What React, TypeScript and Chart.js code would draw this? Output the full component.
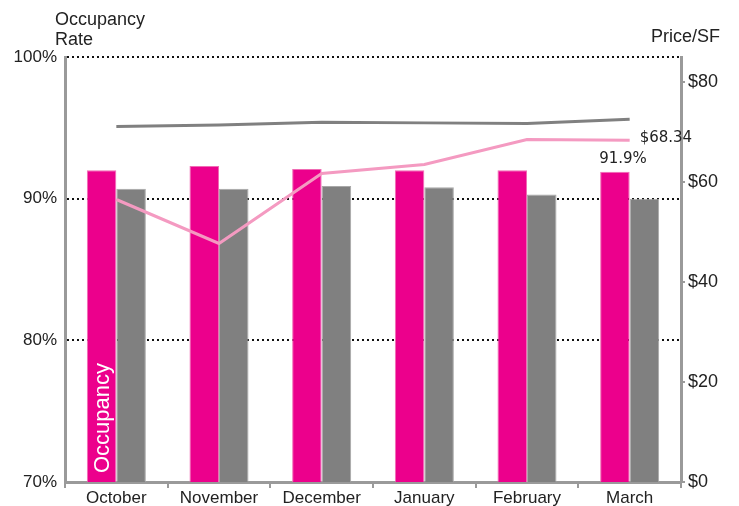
import React, { useEffect, useRef } from "react";
import { Chart, registerables } from "chart.js";

Chart.register(...registerables);

const categories = ["October", "November", "December", "January", "February", "March"];
const occupancyRate = [92.0, 92.3, 92.1, 92.0, 92.0, 91.9];
const comparisonRate = [90.7, 90.7, 90.9, 90.8, 90.3, 90.0];
const benchmarkRate = [95.1, 95.2, 95.4, 95.35, 95.3, 95.6];
const pricePerSF = [56.5, 47.7, 61.7, 63.5, 68.5, 68.34];
const leftTickValues = [70, 80, 90, 100];
const rightTickValues = [0, 20, 40, 60, 80];

const FONT = "'Liberation Sans', Arial, sans-serif";
const LABEL_FONT = "'DejaVu Sans', sans-serif";
const AXIS_GREY = "#9a9a9a";
const TEXT = "#222222";

const annotations = {
  id: "annotations",
  afterDatasetsDraw(chart: any) {
    const ctx = chart.ctx;
    const barMeta = chart.getDatasetMeta(2);
    const lineMeta = chart.getDatasetMeta(1);
    const last = categories.length - 1;
    const area = chart.chartArea;
    // Rotated label inside first pink bar
    const firstBar = barMeta.data[0];
    if (firstBar) {
      ctx.save();
      ctx.translate(firstBar.x, area.bottom - 9);
      ctx.rotate(-Math.PI / 2);
      ctx.fillStyle = "#ffffff";
      ctx.font = "22px " + FONT;
      ctx.textAlign = "left";
      ctx.textBaseline = "middle";
      ctx.fillText("Occupancy", 0, 1);
      ctx.restore();
    }
    ctx.save();
    // value label above last pink bar
    const lastBar = barMeta.data[last];
    if (lastBar) {
      ctx.fillStyle = TEXT;
      ctx.font = "15px " + LABEL_FONT;
      ctx.textAlign = "left";
      ctx.textBaseline = "alphabetic";
      ctx.fillText(occupancyRate[last].toFixed(1) + "%", lastBar.x - lastBar.width / 2 - 1, lastBar.y - 9);
    }
    const lastPt = lineMeta.data[last];
    if (lastPt) {
      ctx.fillStyle = TEXT;
      ctx.font = "15px " + LABEL_FONT;
      ctx.textAlign = "left";
      ctx.textBaseline = "middle";
      ctx.fillText("$" + pricePerSF[last].toFixed(2), lastPt.x + 10, lastPt.y - 2);
    }
    ctx.restore();
  },
  afterDraw(chart: any) {
    const ctx = chart.ctx;
    ctx.save();
    ctx.fillStyle = TEXT;
    ctx.font = "18px " + FONT;
    ctx.textBaseline = "alphabetic";
    ctx.textAlign = "left";
    ctx.fillText("Occupancy", 55, 25);
    ctx.fillText("Rate", 55, 45);
    ctx.textAlign = "right";
    ctx.fillText("Price/SF", 720, 42);
    ctx.restore();
  },
};

export default function App() {
  const ref = useRef<HTMLCanvasElement | null>(null);
  useEffect(() => {
    if (!ref.current) return;
    const chart = new Chart(ref.current, {
      type: "bar",
      data: {
        labels: categories,
        datasets: [
          {
            type: "line",
            label: "Benchmark",
            data: benchmarkRate,
            yAxisID: "y",
            borderColor: "#808080",
            borderWidth: 3,
            pointRadius: 0,
            tension: 0,
            order: 1,
          },
          {
            type: "line",
            label: "Price/SF",
            data: pricePerSF,
            yAxisID: "y2",
            borderColor: "#F49AC1",
            borderWidth: 3,
            pointRadius: 0,
            tension: 0,
            order: 1,
          },
          {
            type: "bar",
            label: "Occupancy",
            data: occupancyRate,
            yAxisID: "y",
            backgroundColor: "#EC008C",
            borderColor: "#F06BB4",
            borderWidth: 1,
            categoryPercentage: 0.575,
            barPercentage: 1,
            order: 2,
          },
          {
            type: "bar",
            label: "Comparison",
            data: comparisonRate,
            yAxisID: "y",
            backgroundColor: "#808080",
            borderColor: "#a8a8a8",
            borderWidth: 1,
            categoryPercentage: 0.575,
            barPercentage: 1,
            order: 2,
          },
        ],
      } as any,
      options: {
        animation: false,
        responsive: true,
        maintainAspectRatio: false,
        layout: { padding: { top: 57, left: 0, right: 0, bottom: 0 } },
        plugins: { legend: { display: false }, tooltip: { enabled: false } },
        scales: {
          x: {
            offset: true,
            grid: {
              offset: true,
              drawOnChartArea: false,
              drawTicks: true,
              tickLength: 6,
              color: AXIS_GREY,
              lineWidth: 2,
            },
            border: { color: AXIS_GREY, width: 3 },
            ticks: {
              font: { size: 17, family: FONT },
              color: TEXT,
              padding: 0,
              maxRotation: 0,
              autoSkip: false,
            },
            afterFit: (s: any) => {
              s.height = 24;
            },
          },
          y: {
            position: "left",
            min: leftTickValues[0],
            max: leftTickValues[leftTickValues.length - 1],
            afterBuildTicks: (s: any) => {
              s.ticks = leftTickValues.map((v) => ({ value: v }));
            },
            ticks: {
              callback: (v: any) => v + "%",
              font: { size: 17, family: FONT },
              color: TEXT,
              padding: 8,
            },
            grid: {
              drawTicks: false,
              color: (c: any) => (c.tick && c.tick.value === leftTickValues[0] ? "rgba(0,0,0,0)" : "#111111"),
              lineWidth: 2,
            },
            border: { color: AXIS_GREY, width: 3, dash: [2, 3] },
            afterFit: (s: any) => {
              s.width = 65;
            },
          },
          y2: {
            position: "right",
            min: 0,
            max: 85,
            afterBuildTicks: (s: any) => {
              s.ticks = rightTickValues.map((v) => ({ value: v }));
            },
            ticks: {
              callback: (v: any) => "$" + v,
              font: { size: 18, family: FONT },
              color: TEXT,
              padding: 3,
            },
            grid: {
              drawOnChartArea: false,
              drawTicks: true,
              tickLength: 4,
              color: AXIS_GREY,
              lineWidth: 2,
            },
            border: { color: AXIS_GREY, width: 3 },
            afterFit: (s: any) => {
              s.width = 58;
            },
          },
        },
      } as any,
      plugins: [annotations],
    });
    return () => chart.destroy();
  }, []);
  return (
    <div style={{ position: "absolute", left: 0, top: 0, width: 739, height: 506 }}>
      <canvas ref={ref} />
    </div>
  );
}
